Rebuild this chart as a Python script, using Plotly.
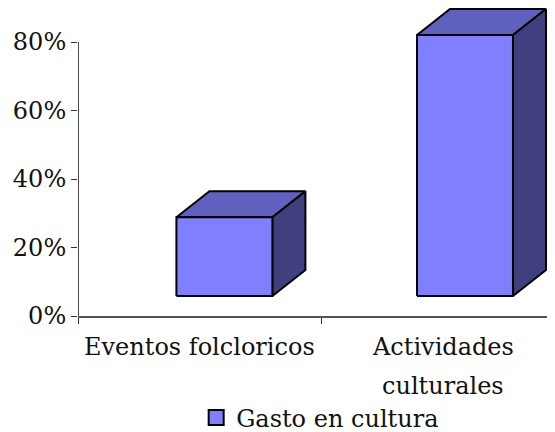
import plotly.graph_objects as go

category_lines = [["Eventos folcloricos"], ["Actividades", "culturales"]]
values = [23.0, 76.2]
series_name = "Gasto en cultura"
y_ticks = [0, 20, 40, 60, 80]
y_tick_labels = ["0%", "20%", "40%", "60%", "80%"]

FRONT, TOP, SIDE = "#8080FF", "#6060BF", "#404080"
EDGE = "#000000"
FONT = "DejaVu Serif"
PX_PER_PCT = 3.425
PX_PER_CAT = 243.0
floor_y = 20 / PX_PER_PCT
depth_x = 33 / PX_PER_CAT
depth_y = 26 / PX_PER_PCT
left_off = 0.405
bar_step = 0.99
bar_w = 0.395

fig = go.Figure()
for i, v in enumerate(values):
    x0, x1 = i * bar_step + left_off, i * bar_step + left_off + bar_w
    y0, y1 = floor_y, floor_y + v
    fig.add_trace(go.Scatter(
        x=[x0, x0 + depth_x, x1 + depth_x, x1, x0],
        y=[y1, y1 + depth_y, y1 + depth_y, y1, y1],
        mode="lines", fill="toself", fillcolor=TOP,
        line=dict(color=EDGE, width=2), showlegend=False, hoverinfo="skip"))
    fig.add_trace(go.Scatter(
        x=[x1, x1 + depth_x, x1 + depth_x, x1, x1],
        y=[y0, y0 + depth_y, y1 + depth_y, y1, y0],
        mode="lines", fill="toself", fillcolor=SIDE,
        line=dict(color=EDGE, width=2), showlegend=False, hoverinfo="skip"))
    fig.add_trace(go.Scatter(
        x=[x0, x1, x1, x0, x0],
        y=[y0, y0, y1, y1, y0],
        mode="lines", fill="toself", fillcolor=FRONT,
        line=dict(color=EDGE, width=2), showlegend=False))

fig.add_trace(go.Scatter(
    x=[None], y=[None], mode="markers", name=series_name,
    marker=dict(symbol="square", size=15, color=FRONT, line=dict(color=EDGE, width=2))))

fig.add_shape(type="line", xref="x", yref="y", x0=0, x1=0, y0=0, y1=80,
              line=dict(color="#111111", width=1.5))

for i, lines in enumerate(category_lines):
    for j, text in enumerate(lines):
        fig.add_annotation(x=i + 0.5, y=0, xref="x", yref="y", yanchor="middle",
                           yshift=-(31 + 39 * j), text=text, showarrow=False,
                           font=dict(family=FONT, size=24, color="#111111"))

fig.update_layout(
    width=547, height=424,
    margin=dict(l=70, r=0, t=0, b=116, autoexpand=False),
    paper_bgcolor="white", plot_bgcolor="white",
    showlegend=True,
    legend=dict(x=0.344, xref="container", y=-0.331, yref="paper",
                xanchor="left", yanchor="middle",
                font=dict(family=FONT, size=24, color="#111111"),
                bgcolor="rgba(0,0,0,0)", borderwidth=0,
                itemwidth=30, tracegroupgap=0),
    xaxis=dict(range=[0, 477 / PX_PER_CAT], tickvals=[0, 1, 2], showticklabels=False,
               ticks="outside", ticklen=6, tickwidth=1, tickcolor="#333333",
               showline=True, linecolor="#555555", linewidth=1.5,
               showgrid=False, zeroline=False),
    yaxis=dict(range=[0, 308 / PX_PER_PCT], tickvals=y_ticks, ticktext=y_tick_labels,
               ticks="outside", ticklen=6, tickwidth=1, tickcolor="#333333",
               showline=False, showgrid=False, zeroline=False,
               tickfont=dict(family=FONT, size=24, color="#111111")),
)
fig.write_html("out.html")
